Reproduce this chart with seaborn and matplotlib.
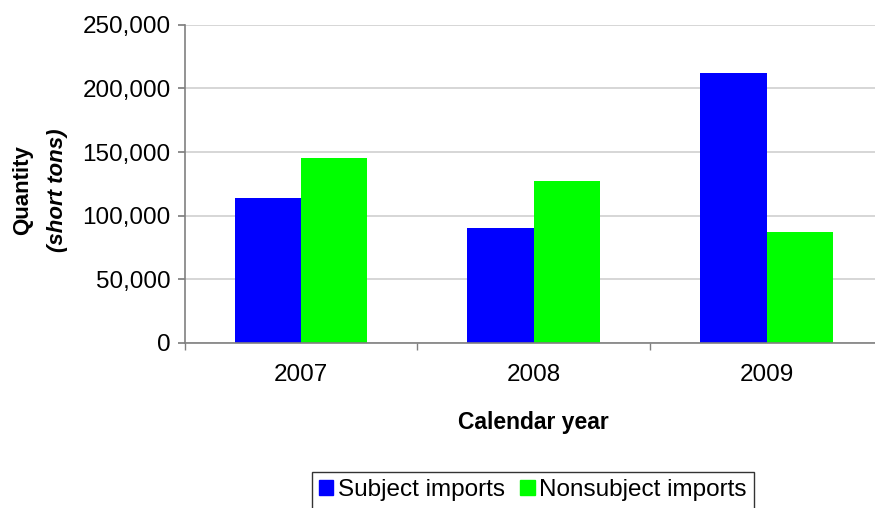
import numpy as np
import pandas as pd
import seaborn as sns
import matplotlib.pyplot as plt
from matplotlib.ticker import FuncFormatter, FixedLocator

# data
years = ["2007", "2008", "2009"]
subject = [114000, 90400, 212000]
nonsubject = [145400, 127300, 87000]
series = ["Subject imports", "Nonsubject imports"]

df = pd.DataFrame({
    "year": years * 2,
    "qty": subject + nonsubject,
    "series": [series[0]] * 3 + [series[1]] * 3,
})

sns.set_theme(style="white")
plt.rcParams["font.family"] = ["Liberation Sans", "DejaVu Sans"]
plt.rcParams["text.color"] = "black"
plt.rcParams["axes.labelcolor"] = "black"
plt.rcParams["xtick.labelcolor"] = "black"
plt.rcParams["ytick.labelcolor"] = "black"

fig = plt.figure(figsize=(8.75, 5.08), dpi=100)
ax = fig.add_axes([0.211, 0.325, 0.798, 0.626])

sns.barplot(data=df, x="year", y="qty", hue="series", order=years,
            hue_order=series, palette=["#0000ff", "#00ff00"],
            width=0.57, gap=0, saturation=1, linewidth=0, ax=ax, legend=False)

ax.set_ylim(0, 250000)
ax.set_xlim(-0.5, 2.5)
ax.set_yticks(np.arange(0, 250001, 50000))
ax.yaxis.set_major_formatter(FuncFormatter(lambda v, p: f"{int(v):,}"))
ax.yaxis.grid(True, color="#d0d0d0", linewidth=1.2)
ax.set_axisbelow(True)

for s in ["top", "right"]:
    ax.spines[s].set_visible(False)
for s in ["left", "bottom"]:
    ax.spines[s].set_color("#808080")
    ax.spines[s].set_linewidth(1.2)

ax.tick_params(axis="y", left=True, length=5, color="#808080", labelsize=17.5, pad=5)
ax.tick_params(axis="x", which="major", bottom=False, labelsize=17.5, pad=9)
ax.xaxis.set_minor_locator(FixedLocator([-0.5, 0.5, 1.5, 2.5]))
ax.tick_params(axis="x", which="minor", bottom=True, length=5, color="#808080")

ax.set_xlabel("Calendar year", fontsize=16.5, fontweight="bold", labelpad=18)
ax.set_ylabel("")
fig.text(0.026, 0.626, "Quantity", rotation=90, fontsize=16, fontweight="bold",
         ha="center", va="center")
fig.text(0.066, 0.626, "(short tons)", rotation=90, fontsize=16, fontweight="bold",
         style="italic", ha="center", va="center")

handles = [plt.Rectangle((0, 0), 1, 1, color=c) for c in ["#0000ff", "#00ff00"]]
leg = fig.legend(handles, series, loc="center", bbox_to_anchor=(0.609, 0.035),
                 ncol=2, frameon=True, fontsize=17.5, handlelength=0.6,
                 handleheight=0.6, handletextpad=0.2, columnspacing=0.6,
                 borderpad=0.3, fancybox=False)
leg.get_frame().set_edgecolor("black")
leg.get_frame().set_linewidth(1)

fig.savefig("out.png", dpi=100)
